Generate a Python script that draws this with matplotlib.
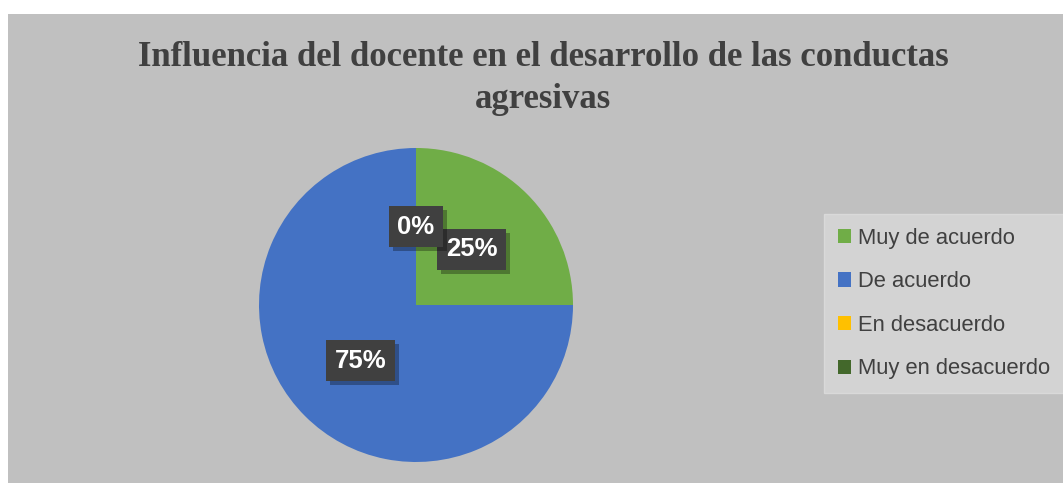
import matplotlib.pyplot as plt
import matplotlib.patheffects as pe
from matplotlib.patches import Patch

categorias = ["Muy de acuerdo", "De acuerdo", "En desacuerdo", "Muy en desacuerdo"]
valores = [25, 75, 0, 0]
colores = ["#70AD47", "#4472C4", "#FFC000", "#43682B"]

W, H = 1063, 483
fig = plt.figure(figsize=(W / 100, H / 100), dpi=100)
fig.patch.set_facecolor("white")

# fondo gris del gráfico
bg = fig.add_axes([8 / W, 0, 1 - 8 / W, (H - 14) / H])
bg.set_facecolor("#C0C0C0")
bg.set_xticks([])
bg.set_yticks([])
for s in bg.spines.values():
    s.set_visible(False)

fig.text(543 / W, 1 - 58 / H, "Influencia del docente en el desarrollo de las conductas",
         ha="center", va="center", fontsize=25, fontweight="bold",
         family="Liberation Serif", color="#404040")
fig.text(543 / W, 1 - 99 / H, "agresivas",
         ha="center", va="center", fontsize=25, fontweight="bold",
         family="Liberation Serif", color="#404040")

# pie
cx, cy, r = 416, 305, 157
ax = fig.add_axes([(cx - r) / W, (H - cy - r) / H, 2 * r / W, 2 * r / H])
ax.set_facecolor("none")
wedges, texts, autotexts = ax.pie(
    valores, colors=colores, startangle=90, counterclock=False,
    autopct=lambda p: f"{p:.0f}%", pctdistance=0.5, radius=1,
    textprops=dict(color="white", fontsize=18.5, fontweight="bold", family="Liberation Sans"))
ax.set_xlim(-1, 1)
ax.set_ylim(-1, 1)
ax.set_aspect("auto")
ax.axis("off")

for t in autotexts[:3]:
    t.set_bbox(dict(boxstyle="square,pad=0.33", facecolor="#404040", edgecolor="none"))
    t.get_bbox_patch().set_path_effects(
        [pe.SimplePatchShadow(offset=(3, -3), shadow_rgbFace="black", alpha=0.3), pe.Normal()])
autotexts[3].set_visible(False)

handles = [Patch(facecolor=c, edgecolor="none") for c in colores]
leg = fig.legend(handles, categorias, loc="upper left",
                 bbox_to_anchor=(824 / W, 1 - 214 / H),
                 frameon=True, fancybox=False,
                 prop=dict(family="Liberation Sans", size=15.8),
                 handlelength=0.62, handleheight=0.62, handletextpad=0.3,
                 labelspacing=1.03, borderpad=0.62, borderaxespad=0)
leg.get_frame().set_facecolor("#D3D3D3")
leg.get_frame().set_edgecolor("#D9D9D9")
leg.get_frame().set_alpha(1)
for t in leg.get_texts():
    t.set_color("#404040")

fig.savefig("out.png", dpi=100)
